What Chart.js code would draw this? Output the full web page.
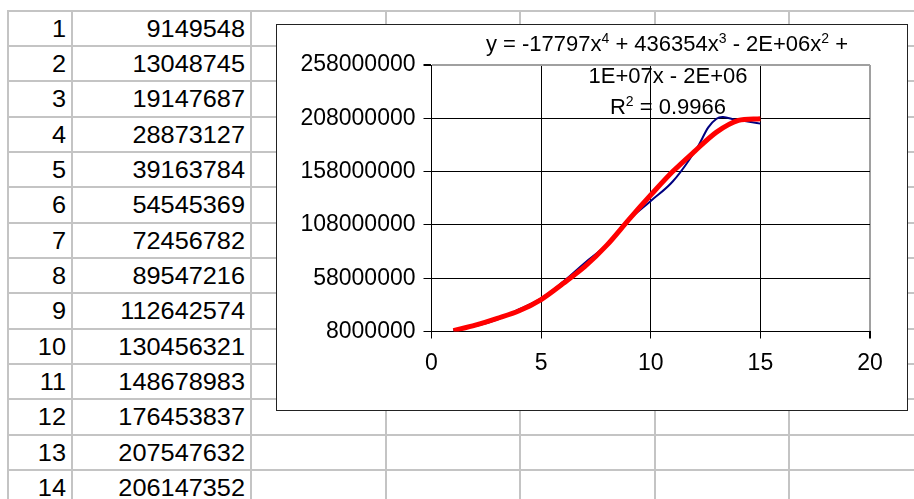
<!DOCTYPE html>
<html>
<head>
<meta charset="utf-8">
<script src="https://cdn.jsdelivr.net/npm/chart.js@4.4.1/dist/chart.umd.min.js"></script>
<style>
    body { margin: 0; background: #fff; width: 914px; height: 499px; overflow: hidden; position: relative; font-family: 'Liberation Sans', Arial, sans-serif; }
    .linha { position: absolute; background: #c4c4c4; }
    .cel { position: absolute; text-align: right; font-size: 23px; color: #000; line-height: 1; transform: scaleX(1.1); transform-origin: right center; }
    #caixa { position: absolute; left: 276px; top: 24px; width: 630px; height: 385px; border: 1px solid #222; background: #fff; }
    #equacao { position: absolute; left: 0; top: 0; width: 100%; font-size: 22px; line-height: 31px; pointer-events: none; }
    #equacao div { position: absolute; white-space: nowrap; transform: translateX(-50%); }
    sup { font-size: 14px; vertical-align: 8px; line-height: 0; }
</style>
</head>
<body>
<div id="planilha"></div>
<div id="caixa">
    <canvas id="grafico"></canvas>
    <div id="equacao">
        <div style="left:390px; top:3px">y = -17797x<sup>4</sup> + 436354x<sup>3</sup> - 2E+06x<sup>2</sup> +</div>
        <div style="left:391px; top:35px">1E+07x - 2E+06</div>
        <div style="left:391px; top:66px">R<sup>2</sup> = 0.9966</div>
    </div>
</div>
<script>
// dados da planilha (coluna A = x, coluna B = y)
const periodos = [1, 2, 3, 4, 5, 6, 7, 8, 9, 10, 11, 12, 13, 14, 15]
const valores = [9149548, 13048745, 19147687, 28873127, 39163784, 54545369, 72456782,
    89547216, 112642574, 130456321, 148678983, 176453837, 207547632, 206147352, 203000000]

// linha de tendencia polinomial (ordem 4), lida em cada x
const tendencia = [8800000, 14000000, 20400000, 27500000, 38000000, 53000000, 69000000,
    89000000, 113000000, 136000000, 158000000, 177000000, 195000000, 206000000, 207500000]

const ticksY = [8000000, 58000000, 108000000, 158000000, 208000000, 258000000]
const ticksX = [0, 5, 10, 15, 20]

// grade da planilha
const colunas = [8, 72, 251, 386, 520, 655, 789, 923]
const topo = 10.5
const altLinha = 35.35
const planilha = document.getElementById('planilha')

for (var k = 0; k <= periodos.length; k++) {
    var h = document.createElement('div')
    h.className = 'linha'
    h.style.left = colunas[0] + 'px'
    h.style.top = (topo + k * altLinha - 1) + 'px'
    h.style.width = '920px'
    h.style.height = '2px'
    planilha.appendChild(h)
}
for (var c = 0; c < colunas.length; c++) {
    var v = document.createElement('div')
    v.className = 'linha'
    v.style.left = (colunas[c] - 1) + 'px'
    v.style.top = (topo - 1) + 'px'
    v.style.width = '2px'
    v.style.height = '520px'
    planilha.appendChild(v)
}

function celula(texto, esquerda, direita, linha) {
    var d = document.createElement('div')
    d.className = 'cel'
    d.textContent = texto
    d.style.left = esquerda + 'px'
    d.style.width = (direita - esquerda - 6) + 'px'
    d.style.top = (topo + linha * altLinha + 7) + 'px'
    planilha.appendChild(d)
}

for (var i = 0; i < periodos.length; i++) {
    celula(periodos[i], colunas[0], colunas[1], i)
    celula(valores[i], colunas[1], colunas[2], i)
}

const fonte = { family: "'Liberation Sans', Arial, sans-serif", size: 23 }

const dadosGrafico = {
    datasets: [{
        label: 'tendencia',
        data: periodos.map((x, i) => ({ x: x, y: tendencia[i] })),
        borderColor: '#ff0000',
        borderWidth: 5,
        pointRadius: 0,
        showLine: true,
        tension: 0.3
    }, {
        label: 'valores',
        data: periodos.map((x, i) => ({ x: x, y: valores[i] })),
        borderColor: '#000080',
        borderWidth: 2,
        pointRadius: 0,
        showLine: true,
        tension: 0.4
    }]
}

const configGrafico = {
    type: 'scatter',
    data: dadosGrafico,
    options: {
        responsive: true,
        maintainAspectRatio: false,
        animation: false,
        events: [],
        layout: { padding: { top: 40, right: 37, left: 0, bottom: 0 } },
        plugins: { legend: { display: false }, tooltip: { enabled: false } },
        scales: {
            x: {
                type: 'linear',
                min: 0,
                max: 20,
                afterBuildTicks: s => { s.ticks = ticksX.map(v => ({ value: v })) },
                afterFit: s => { s.height = 78.5 },
                ticks: { color: '#000', font: fonte, padding: 11, maxRotation: 0 },
                grid: {
                    color: ctx => ctx.tick && ctx.tick.value === 20 ? '#a0a0a0' : '#000',
                    lineWidth: ctx => ctx.tick && ctx.tick.value === 20 ? 2 : 1,
                    tickColor: '#000',
                    tickLength: 7
                },
                border: { color: '#000', width: 1 }
            },
            y: {
                type: 'linear',
                min: 8000000,
                max: 258000000,
                afterBuildTicks: s => { s.ticks = ticksY.map(v => ({ value: v })) },
                afterFit: s => { s.width = 154.5 },
                ticks: { color: '#000', font: fonte, padding: 8, callback: v => String(v) },
                grid: {
                    color: ctx => ctx.tick && ctx.tick.value === 258000000 ? '#a0a0a0' : '#000',
                    lineWidth: ctx => ctx.tick && ctx.tick.value === 258000000 ? 2 : 1,
                    tickColor: '#000',
                    tickLength: 8
                },
                border: { color: '#000', width: 1 }
            }
        }
    }
}

const meuGrafico = new Chart(document.getElementById('grafico'), configGrafico)
</script>
</body>
</html>
